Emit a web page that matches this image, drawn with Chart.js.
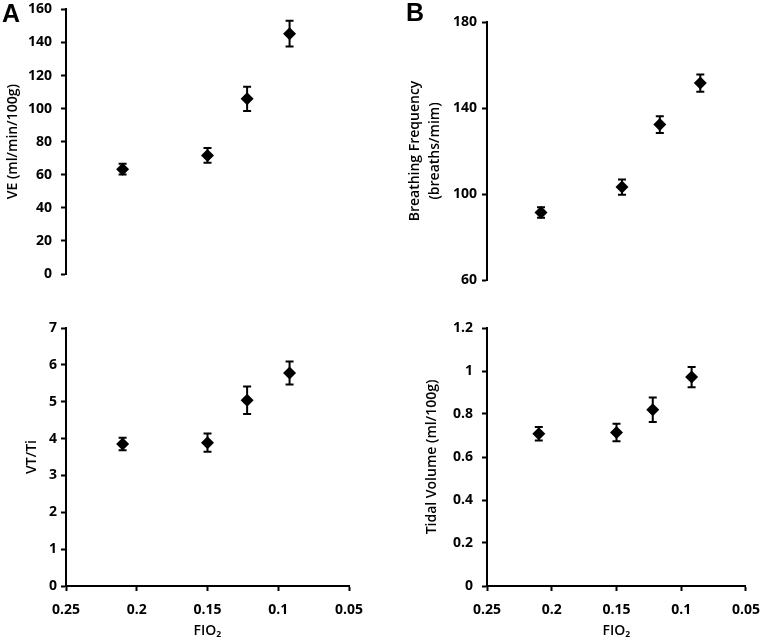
<!DOCTYPE html>
<html>
<head>
<meta charset="utf-8">
<script src="https://cdn.jsdelivr.net/npm/chart.js@4.4.1/dist/chart.umd.min.js"></script>
<style>
  html, body { margin: 0; padding: 0; background: #fff; }
  body { width: 771px; height: 641px; position: relative; overflow: hidden; font-family: "Open Sans", sans-serif; }
  canvas { position: absolute; }
  .lbl { position: absolute; font-family: "Liberation Sans", Arial, sans-serif; font-weight: bold; font-size: 25px; line-height: 25px; color: #000; z-index: 2; }
</style>
</head>
<body>
<div class="lbl" style="left:2px; top:1px;">A</div>
<div class="lbl" style="left:406px; top:0px;">B</div>
<canvas id="cA1" width="380" height="300" style="left:0; top:-8px;"></canvas>
<canvas id="cA2" width="380" height="341" style="left:0; top:300px;"></canvas>
<canvas id="cB1" width="391" height="300" style="left:380px; top:0;"></canvas>
<canvas id="cB2" width="391" height="341" style="left:380px; top:300px;"></canvas>
<script>
// ---- data ----
const fio2 = [0.21, 0.15, 0.122, 0.092];
const xTicks = [0.25, 0.2, 0.15, 0.1, 0.05];

const ve = [63.4, 71.7, 105.9, 145.3];
const veErr = [3.2, 4.5, 7.3, 7.8];
const veTicks = [0, 20, 40, 60, 80, 100, 120, 140, 160];

const vtti = [3.85, 3.89, 5.04, 5.78];
const vttiErr = [0.17, 0.25, 0.37, 0.31];
const vttiTicks = [0, 1, 2, 3, 4, 5, 6, 7];

const bf = [91.4, 103.2, 132.3, 151.6];
const bfErr = [2.4, 3.6, 3.9, 4.0];
const bfTicks = [60, 100, 140, 180];

const vt = [0.708, 0.714, 0.82, 0.972];
const vtErr = [0.031, 0.041, 0.057, 0.047];
const vtTicks = [0, 0.2, 0.4, 0.6, 0.8, 1, 1.2];

// ---- helpers ----
const tickFont = { family: "'Open Sans', sans-serif", size: 14, weight: 'bold' };
const titleFont = { family: "'Open Sans', sans-serif", size: 14, weight: '600', lineHeight: 1.45 };

const errorBars = {
  id: 'errorBars',
  afterDatasetsDraw(chart) {
    const ctx = chart.ctx;
    const ys = chart.scales.y;
    chart.data.datasets.forEach((ds, di) => {
      const meta = chart.getDatasetMeta(di);
      ctx.save();
      ctx.strokeStyle = '#000';
      ctx.lineWidth = 2;
      meta.data.forEach((pt, i) => {
        const v = ds.data[i].y, e = ds.err[i];
        const x = pt.x;
        const yt = ys.getPixelForValue(v + e);
        const yb = ys.getPixelForValue(v - e);
        ctx.beginPath();
        ctx.moveTo(x, yt); ctx.lineTo(x, yb);
        ctx.moveTo(x - 4, yt); ctx.lineTo(x + 4, yt);
        ctx.moveTo(x - 4, yb); ctx.lineTo(x + 4, yb);
        ctx.stroke();
      });
      ctx.restore();
    });
  }
};

const fmt = v => String(Math.round(v * 1000) / 1000);

function makeChart(id, o) {
  const pts = fio2.map((x, i) => ({ x: x, y: o.values[i] }));
  return new Chart(document.getElementById(id), {
    type: 'scatter',
    data: { datasets: [{ data: pts, err: o.err, pointStyle: 'rectRot', pointRadius: 6.5, pointHoverRadius: 6.5,
      backgroundColor: '#000', borderColor: '#000', borderWidth: 0 }] },
    options: {
      responsive: false, animation: false, devicePixelRatio: 1,
      events: [],
      layout: { padding: o.padding },
      plugins: { legend: { display: false }, tooltip: { enabled: false } },
      scales: {
        x: {
          type: 'linear', min: 0.05, max: 0.25, reverse: true,
          display: o.showX,
          afterBuildTicks: s => { s.ticks = xTicks.map(v => ({ value: v })); },
          afterFit: s => { if (o.showX) s.height = 55; else s.height = 0; },
          grid: { display: true, drawOnChartArea: false, drawTicks: true, tickLength: 5, tickWidth: 2, tickColor: '#000' },
          border: { display: true, color: '#000', width: 2 },
          ticks: { font: tickFont, color: '#000', padding: 11, maxRotation: 0, autoSkip: false, callback: v => fmt(v) },
          title: { display: true, text: 'FIO₂', font: titleFont, color: '#000', padding: { top: 0, bottom: 0 } }
        },
        y: {
          type: 'linear', min: o.min, max: o.max,
          afterBuildTicks: s => { s.ticks = o.ticks.map(v => ({ value: v })); },
          afterFit: s => { s.width = o.yWidth; },
          grid: { display: true, drawOnChartArea: false, drawTicks: true, tickLength: 5, tickWidth: 2, tickColor: '#000' },
          border: { display: true, color: '#000', width: 2 },
          ticks: { font: tickFont, color: '#000', padding: o.tickPad, autoSkip: false, callback: v => fmt(v) },
          title: { display: true, text: o.title, font: titleFont, color: '#000', padding: { top: o.titlePad, bottom: 0 } }
        }
      }
    },
    plugins: [errorBars]
  });
}

makeChart('cA1', { values: ve, err: veErr, min: 0, max: 160, ticks: veTicks, title: 'VE (ml/min/100g)',
  yWidth: 66, tickPad: 9, titlePad: 3, showX: false, padding: { left: 0, right: 31, top: 10, bottom: 18 } });
makeChart('cA2', { values: vtti, err: vttiErr, min: 0, max: 7, ticks: vttiTicks, title: 'VT/Ti',
  yWidth: 66, tickPad: 4, titlePad: 22, showX: true, padding: { left: 0, right: 31, top: 28, bottom: 0 } });
makeChart('cB1', { values: bf, err: bfErr, min: 60, max: 180, ticks: bfTicks, title: ['Breathing Frequency', '(breaths/mim)'],
  yWidth: 107, tickPad: 5, titlePad: 25, showX: false, padding: { left: 0, right: 14, top: 22, bottom: 20 } });
makeChart('cB2', { values: vt, err: vtErr, min: 0, max: 1.2, ticks: vtTicks, title: 'Tidal Volume (ml/100g)',
  yWidth: 107, tickPad: 9, titlePad: 42, showX: true, padding: { left: 0, right: 14, top: 28, bottom: 0 } });
</script>
</body>
</html>
